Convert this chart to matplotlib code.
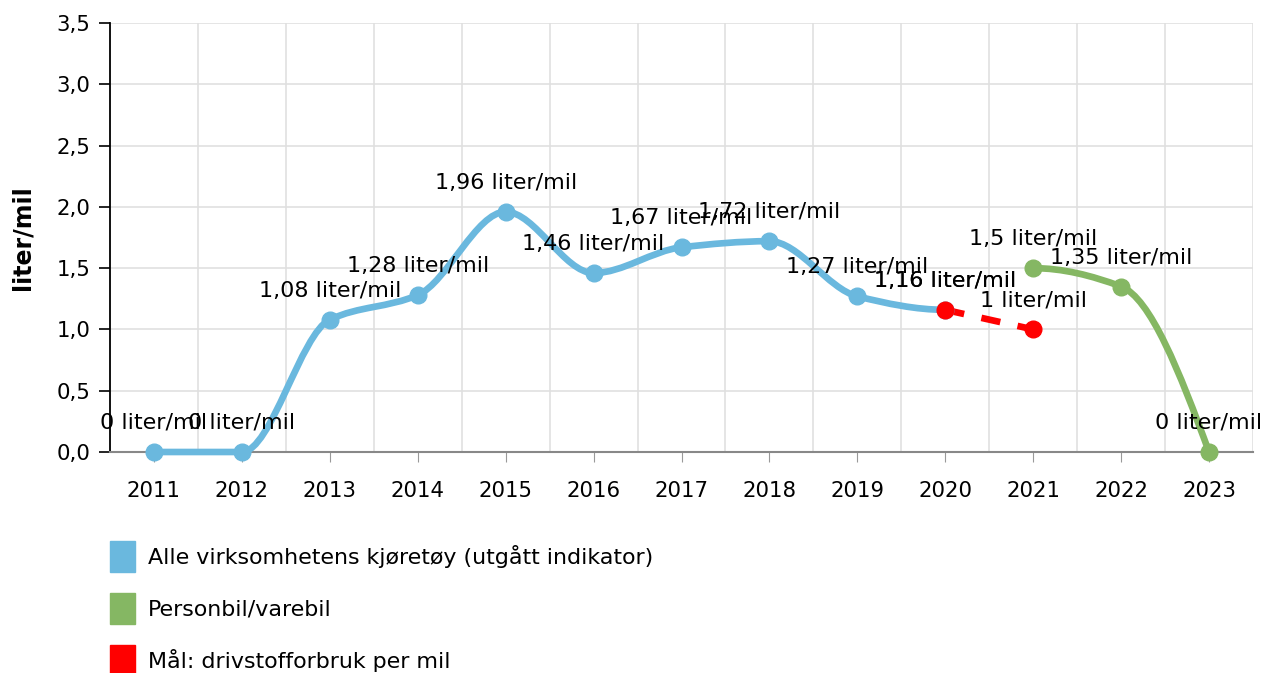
import numpy as np
import matplotlib.pyplot as plt
from matplotlib.path import Path
from matplotlib.patches import PathPatch, Patch

# data
years = ['2011', '2012', '2013', '2014', '2015', '2016', '2017', '2018', '2019', '2020', '2021', '2022', '2023']
alle_years = ['2011', '2012', '2013', '2014', '2015', '2016', '2017', '2018', '2019', '2020']
alle_vals = [0, 0, 1.08, 1.28, 1.96, 1.46, 1.67, 1.72, 1.27, 1.16]
person_years = ['2021', '2022', '2023']
person_vals = [1.5, 1.35, 0]
maal_years = ['2020', '2021']
maal_vals = [1.16, 1.0]

blue = '#6ab8de'
green = '#85b763'
red = '#ff0000'


def smooth_path(xs, ys):
    # monotone cubic (pchip-like) curve through the points, as bezier segments
    n = len(xs)
    s = [(ys[i + 1] - ys[i]) / (xs[i + 1] - xs[i]) for i in range(n - 1)]
    if n == 2:
        m = [s[0], s[0]]
    else:
        m = [0.0] * n
        for i in range(1, n - 1):
            if s[i - 1] * s[i] <= 0:
                m[i] = 0.0
            else:
                m[i] = 2.0 / (1.0 / s[i - 1] + 1.0 / s[i])
        for i, a, b in [(0, s[0], s[1]), (n - 1, s[-1], s[-2])]:
            d = (3 * a - b) / 2
            if d * a <= 0:
                d = 0.0
            elif a * b < 0 and abs(d) > 3 * abs(a):
                d = 3 * a
            m[i] = d
    verts = [(xs[0], ys[0])]
    codes = [Path.MOVETO]
    for i in range(n - 1):
        h = xs[i + 1] - xs[i]
        verts += [(xs[i] + h / 3, ys[i] + m[i] * h / 3),
                  (xs[i + 1] - h / 3, ys[i + 1] - m[i + 1] * h / 3),
                  (xs[i + 1], ys[i + 1])]
        codes += [Path.CURVE4] * 3
    return Path(verts, codes)


def fmt(v):
    t = ('%.2f' % v).rstrip('0').rstrip('.')
    return t.replace('.', ',') + ' liter/mil'


fig = plt.figure(figsize=(12.63, 6.73), dpi=100)
ax = fig.add_axes([110 / 1263, 1 - 452 / 673, 1143 / 1263, 429 / 673])

idx = {y: i for i, y in enumerate(years)}

series = [
    (alle_years, alle_vals, blue, 'solid'),
    (person_years, person_vals, green, 'solid'),
    (maal_years, maal_vals, red, (0, (2.9, 2.65))),
]

for yrs, vals, col, ls in series:
    xs = [idx[y] for y in yrs]
    p = smooth_path(xs, vals)
    ax.add_patch(PathPatch(p, facecolor='none', edgecolor=col, lw=4.8,
                           linestyle=ls, capstyle='butt', zorder=3, clip_on=False))
    ax.plot(xs, vals, 'o', color=col, ms=12, zorder=4, clip_on=False)
    for x, v in zip(xs, vals):
        ax.annotate(fmt(v), (x, v), xytext=(0, 29), textcoords='offset pixels',
                    ha='center', va='center', fontsize=16, color='#000000', zorder=5)

ax.set_xlim(-0.5, len(years) - 0.5)
ax.set_ylim(0, 3.5)
ax.set_xticks(range(len(years)))
ax.set_xticklabels(years, fontsize=15.3)
ax.set_xticks(np.arange(-0.5, len(years)), minor=True)
yt = np.arange(0, 3.51, 0.5)
ax.set_yticks(yt)
ax.set_yticklabels([('%.1f' % v).replace('.', ',') for v in yt], fontsize=15.3)
ax.tick_params(axis='x', which='major', length=7, color='#999999', pad=14)
ax.tick_params(axis='x', which='minor', length=0)
ax.tick_params(axis='y', length=8, width=1.2, color='#000000', pad=6)
ax.grid(axis='y', color='#e0e0e0', lw=1.2)
ax.grid(axis='x', which='minor', color='#e0e0e0', lw=1.2)
ax.set_axisbelow(True)
for sp in ['top', 'right']:
    ax.spines[sp].set_visible(False)
ax.spines['left'].set_linewidth(1.3)
ax.spines['bottom'].set_color('#888888')
ax.spines['bottom'].set_linewidth(1.5)
ax.set_ylabel('liter/mil', fontsize=17, fontweight='bold', labelpad=16)

handles = [Patch(color=blue), Patch(color=green), Patch(color=red)]
labels = ['Alle virksomhetens kjøretøy (utgått indikator)', 'Personbil/varebil',
          'Mål: drivstofforbruk per mil']
fig.legend(handles, labels, loc='upper left', bbox_to_anchor=(110 / 1263, 1 - 541 / 673),
           frameon=False, fontsize=15.9, handlelength=1.15, handleheight=1.78,
           handletextpad=0.55, labelspacing=0.96, borderpad=0, borderaxespad=0)

fig.savefig('out.png', dpi=100)
